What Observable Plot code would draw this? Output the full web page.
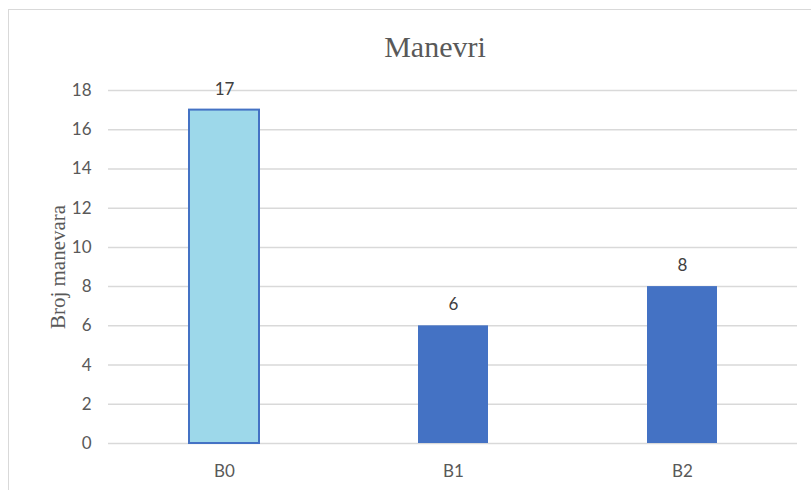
<!DOCTYPE html>
<html>
<head>
<meta charset="utf-8">
<script src="https://cdn.jsdelivr.net/npm/d3@7"></script>
<script src="https://cdn.jsdelivr.net/npm/@observablehq/plot@0.6"></script>
<style>
  html, body { margin: 0; padding: 0; background: #fff; overflow: hidden; width: 811px; height: 490px; }
  #frame { position: absolute; left: 8px; top: 9px; width: 900px; height: 600px; border: 1.5px solid #d9d9d9; box-sizing: border-box; }
  #title { position: absolute; left: 0; top: 32px; width: 870px; text-align: center; font-family: "Liberation Serif", "Times New Roman", serif; font-size: 30px; line-height: 30px; color: #595959; }
  #chart { position: absolute; left: 0; top: 70px; }
</style>
</head>
<body>
<div id="frame"></div>
<div id="title">Manevri</div>
<div id="chart"></div>
<script>
const categories = ["B0", "B1", "B2"];
const values = [17, 6, 8];
const yTicks = [0, 2, 4, 6, 8, 10, 12, 14, 16, 18];
const yLabel = "Broj manevara";

const data = categories.map((c, i) => ({cat: c, value: values[i], idx: i}));

const plot = Plot.plot({
  width: 811,
  height: 420,
  marginTop: 20,
  marginBottom: 47,
  marginLeft: 108,
  marginRight: 14,
  style: {fontFamily: "Lato, 'Open Sans', sans-serif", fontSize: "17px", color: "#595959", background: "transparent"},
  x: {domain: categories, paddingInner: 0.695, paddingOuter: 0.3475},
  y: {domain: [0, 18]},
  marks: [
    Plot.gridY(yTicks, {stroke: "#d9d9d9", strokeOpacity: 1, strokeWidth: 1.5}),
    Plot.barY(data, {
      x: "cat", y: "value",
      fill: d => d.idx === 0 ? "#9dd8ea" : "#4472c4",
      stroke: d => d.idx === 0 ? "#4472c4" : "none",
      strokeWidth: 2
    }),
    Plot.text(data, {x: "cat", y: "value", text: d => String(d.value), dy: -21, fontSize: 17, fill: "#404040"}),
    Plot.axisY({ticks: yTicks, tickSize: 0, tickPadding: 17, label: null, fontSize: 17, fill: "#595959"}),
    Plot.axisY({ticks: [], label: yLabel, labelAnchor: "center", labelArrow: "none", labelOffset: 58, fontFamily: "Liberation Serif, 'Times New Roman', serif", fontSize: 21, fill: "#595959"}),
    Plot.axisX({tickSize: 0, tickPadding: 21, label: null, fontSize: 17, fill: "#595959"})
  ]
});
document.getElementById("chart").appendChild(plot);
</script>
</body>
</html>
